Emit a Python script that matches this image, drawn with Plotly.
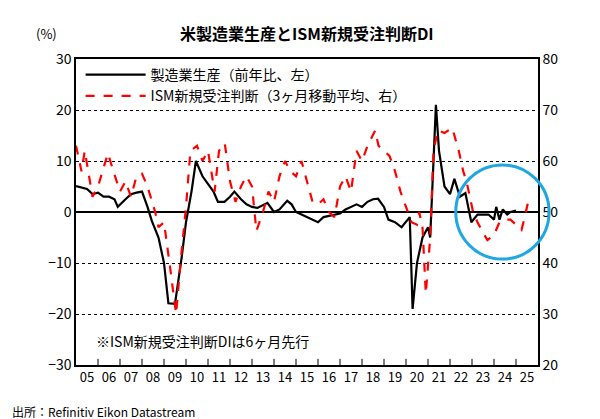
import plotly.graph_objects as go

prod_x = [2005.0,2005.25,2005.5,2005.75,2006.0,2006.25,2006.5,2006.75,2006.9,2007.25,2007.5,2007.75,2008.0,2008.25,2008.45,2008.75,2009.0,2009.2,2009.5,2009.8,2010.0,2010.25,2010.45,2010.75,2011.0,2011.25,2011.45,2011.75,2012.0,2012.2,2012.5,2012.75,2013.0,2013.25,2013.7,2014.0,2014.25,2014.6,2014.8,2015.0,2015.25,2015.5,2016.0,2016.25,2016.5,2016.75,2017.0,2017.25,2017.5,2017.75,2018.0,2018.25,2018.5,2018.73,2019.0,2019.2,2019.5,2019.8,2020.17,2020.3,2020.5,2020.75,2021.0,2021.1,2021.36,2021.5,2021.75,2022.0,2022.2,2022.45,2022.7,2022.97,2023.25,2023.5,2023.75,2024.0,2024.1,2024.25,2024.4,2024.6,2024.75,2025.0]
prod_y = [5.1,4.8,4.5,3.5,3.8,3.0,3.0,2.5,1.0,2.5,3.5,3.8,4.0,1.0,-1.8,-5,-10,-17.9,-18,-9,-2,4,10,7,5.5,4,2,2,3,4,2.5,1.5,1,0.8,1.8,0,0.5,2.2,1.5,0,-0.5,-1,-2,-1,-0.8,-0.5,-0.3,0.5,1,1.5,1,2,2.5,2.6,1,-1.5,-2,-3,-1,-19,-10,-5,-3,-5,21,12,5,3.5,6.5,3,3.7,-2,-0.5,-0.5,-0.5,-1.5,1.0,-1.5,0.5,-0.5,0,0.3]

ism_x = [2005.0,2005.25,2005.4,2005.6,2005.75,2006.0,2006.45,2006.7,2007.0,2007.25,2007.5,2007.75,2008.0,2008.25,2008.6,2008.75,2009.0,2009.25,2009.55,2009.75,2010.0,2010.2,2010.5,2010.75,2011.0,2011.3,2011.5,2011.76,2012.0,2012.25,2012.5,2012.75,2013.0,2013.2,2013.5,2013.75,2014.0,2014.25,2014.5,2014.75,2015.0,2015.25,2015.5,2015.75,2016.0,2016.25,2016.5,2016.75,2017.0,2017.25,2017.5,2017.75,2018.0,2018.25,2018.6,2018.75,2019.0,2019.25,2019.5,2019.75,2020.0,2020.25,2020.5,2020.6,2020.75,2020.9,2021.1,2021.25,2021.45,2021.75,2022.1,2022.4,2022.6,2022.75,2023.05,2023.25,2023.5,2023.7,2024.0,2024.25,2024.5,2024.75,2025.0,2025.25,2025.4,2025.55]
ism_y = [63,58,62,57,53,55,61.5,58,54,56,53,57,57.5,55,50,47,48,40,30,40,51,62,63,60,62,54,62,63.5,56,52,55,57,55,46.3,50,54,52,57,60,58,57,60,56,52,51.5,52.5,50,49,55,57,54,62,60,63,66,63,62,61,58,54,51,48,47.5,50,47,34,45,62,66,65.5,66.5,62,58,56,50,48,46,44.5,45.5,48,48.5,48.5,47.5,46.5,49,52]

years = list(range(2005, 2026))
tick_text = [f"{y % 100:02d}" for y in years]

font = "Noto Sans CJK JP"
fig = go.Figure()
fig.add_trace(go.Scatter(x=prod_x, y=prod_y, mode="lines", name="製造業生産（前年比、左）",
                         line=dict(color="black", width=2.2)))
fig.add_trace(go.Scatter(x=ism_x, y=ism_y, mode="lines", name="ISM新規受注判断（3ヶ月移動平均、右）",
                         line=dict(color="#ff0000", width=2.2, dash="dash"), yaxis="y2"))
fig.update_layout(
    width=600, height=419, plot_bgcolor="white", paper_bgcolor="white",
    margin=dict(l=68, r=70, t=51, b=62, autoexpand=False),
    font=dict(family=font, size=13, color="black"),
    showlegend=True,
    legend=dict(x=0.01, y=1.0, xanchor="left", yanchor="top", bgcolor="rgba(255,255,255,0)",
                font=dict(size=14), tracegroupgap=0, itemwidth=60),
    xaxis=dict(range=[2005, 2026], tickmode="array", tickvals=[y + 0.5 for y in years],
               ticktext=tick_text, showgrid=False, showline=True, linecolor="black", linewidth=1.5,
               mirror=True, ticks="", tickfont=dict(size=13), zeroline=False, automargin=False),
    yaxis=dict(range=[-30, 30], dtick=10, showgrid=True, gridcolor="black", griddash="dot",
               gridwidth=1, zeroline=True, zerolinecolor="black", zerolinewidth=1.5,
               showline=True, linecolor="black", linewidth=1.5, ticks="", tickfont=dict(size=14),
               automargin=False),
    yaxis2=dict(range=[20, 80], dtick=10, overlaying="y", side="right", showgrid=False,
                zeroline=False, showline=True, linecolor="black", linewidth=1.5, ticks="",
                tickfont=dict(size=14), automargin=False),
    annotations=[
        dict(text="<b>米製造業生産とISM新規受注判断DI</b>", x=0.5, y=1.0, xref="paper", yref="paper",
             xanchor="center", yanchor="bottom", yshift=12, showarrow=False, font=dict(size=16)),
        dict(text="(%)", x=-0.09, y=1.0, xref="paper", yref="paper", xanchor="left", yanchor="bottom",
             yshift=14, showarrow=False, font=dict(size=13)),
        dict(text="※ISM新規受注判断DIは6ヶ月先行", x=0.04, y=0.08, xref="paper", yref="paper",
             xanchor="left", yanchor="middle", showarrow=False, font=dict(size=14)),
        dict(text="出所：Refinitiv Eikon Datastream", x=0, y=0, xref="paper", yref="paper",
             xanchor="left", yanchor="top", xshift=-66, yshift=-36, showarrow=False, font=dict(size=12)),
    ],
    shapes=[
        dict(type="circle", xref="paper", yref="paper", x0=0.822, x1=1.024, y0=0.346, y1=0.654,
             line=dict(color="#1ea7e1", width=3)),
    ] + [dict(type="line", xref="x", yref="paper", x0=y, x1=y, y0=0, y1=0.02,
              line=dict(color="black", width=1)) for y in years[1:]],
)
fig.write_html("out.html")
